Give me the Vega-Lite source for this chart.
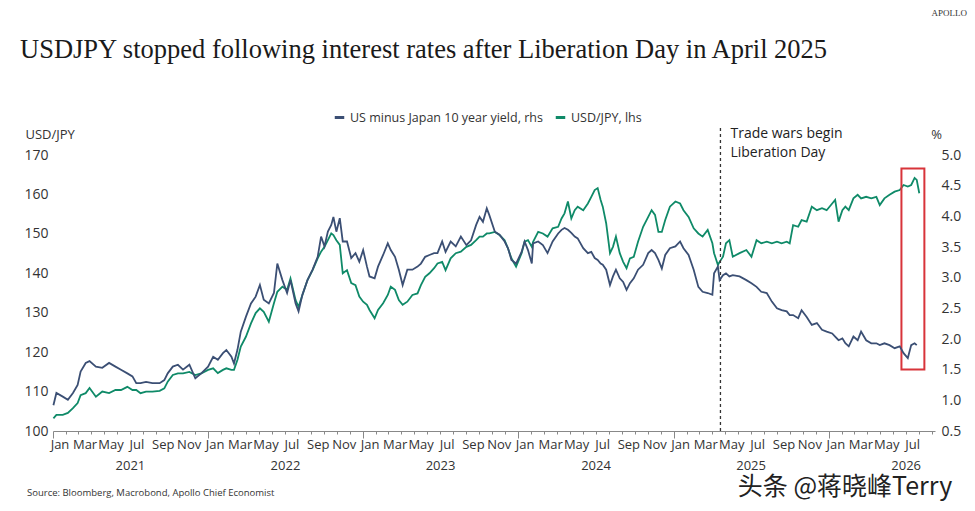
{
  "$schema": "https://vega.github.io/schema/vega-lite/v6.json",
  "width": 882,
  "height": 276,
  "autosize": "none",
  "padding": {"left": 53, "top": 155, "right": 40, "bottom": 80},
  "background": "white",
  "title": {
    "text": "USDJPY stopped following interest rates after Liberation Day in April 2025",
    "anchor": "start",
    "frame": "group",
    "font": "Liberation Serif",
    "fontSize": 26.5,
    "fontWeight": "normal",
    "color": "#1a1a1a",
    "dx": -33,
    "offset": -54
  },
  "config": {
    "view": {"stroke": null},
    "font": "Open Sans",
    "axis": {"labelFont": "Open Sans", "titleFont": "Open Sans", "labelColor": "#333", "titleColor": "#333", "grid": false},
    "legend": {"labelFont": "Open Sans"}
  },
  "data": {
    "values": [
      {"d": "2021-01-02", "fx": 103.2, "yld": 0.92},
      {"d": "2021-01-09", "fx": 104.1, "yld": 1.12},
      {"d": "2021-01-24", "fx": 104.1, "yld": 1.06},
      {"d": "2021-02-05", "fx": 104.6, "yld": 1.01},
      {"d": "2021-02-17", "fx": 105.8, "yld": 1.12},
      {"d": "2021-02-28", "fx": 107.1, "yld": 1.25},
      {"d": "2021-03-07", "fx": 109.1, "yld": 1.47},
      {"d": "2021-03-19", "fx": 109.6, "yld": 1.61},
      {"d": "2021-03-28", "fx": 110.9, "yld": 1.64},
      {"d": "2021-04-12", "fx": 108.7, "yld": 1.55},
      {"d": "2021-04-27", "fx": 110.0, "yld": 1.53},
      {"d": "2021-05-13", "fx": 109.6, "yld": 1.61},
      {"d": "2021-05-28", "fx": 110.4, "yld": 1.55},
      {"d": "2021-06-10", "fx": 110.4, "yld": 1.50},
      {"d": "2021-06-25", "fx": 111.2, "yld": 1.44},
      {"d": "2021-07-07", "fx": 110.4, "yld": 1.39},
      {"d": "2021-07-16", "fx": 110.4, "yld": 1.28},
      {"d": "2021-07-26", "fx": 109.6, "yld": 1.28},
      {"d": "2021-08-08", "fx": 110.0, "yld": 1.30},
      {"d": "2021-08-23", "fx": 110.0, "yld": 1.28},
      {"d": "2021-09-09", "fx": 110.2, "yld": 1.28},
      {"d": "2021-09-20", "fx": 110.8, "yld": 1.33},
      {"d": "2021-09-28", "fx": 112.5, "yld": 1.44},
      {"d": "2021-10-10", "fx": 114.2, "yld": 1.55},
      {"d": "2021-10-22", "fx": 114.6, "yld": 1.58},
      {"d": "2021-11-03", "fx": 114.6, "yld": 1.50},
      {"d": "2021-11-18", "fx": 115.0, "yld": 1.58},
      {"d": "2021-12-02", "fx": 114.2, "yld": 1.36},
      {"d": "2021-12-16", "fx": 114.6, "yld": 1.44},
      {"d": "2022-01-01", "fx": 115.5, "yld": 1.55},
      {"d": "2022-01-13", "fx": 115.9, "yld": 1.71},
      {"d": "2022-01-24", "fx": 114.7, "yld": 1.66},
      {"d": "2022-02-05", "fx": 115.5, "yld": 1.77},
      {"d": "2022-02-13", "fx": 115.9, "yld": 1.82},
      {"d": "2022-02-25", "fx": 115.5, "yld": 1.71},
      {"d": "2022-03-03", "fx": 115.5, "yld": 1.60},
      {"d": "2022-03-11", "fx": 118.0, "yld": 1.82},
      {"d": "2022-03-19", "fx": 121.4, "yld": 2.12},
      {"d": "2022-03-31", "fx": 123.9, "yld": 2.36},
      {"d": "2022-04-12", "fx": 127.3, "yld": 2.58},
      {"d": "2022-04-23", "fx": 129.9, "yld": 2.69},
      {"d": "2022-05-03", "fx": 131.1, "yld": 2.88},
      {"d": "2022-05-12", "fx": 130.2, "yld": 2.64},
      {"d": "2022-05-24", "fx": 127.7, "yld": 2.58},
      {"d": "2022-06-05", "fx": 132.4, "yld": 2.75},
      {"d": "2022-06-13", "fx": 135.3, "yld": 3.23},
      {"d": "2022-06-25", "fx": 136.6, "yld": 2.96},
      {"d": "2022-07-06", "fx": 135.8, "yld": 2.75},
      {"d": "2022-07-14", "fx": 138.7, "yld": 2.96},
      {"d": "2022-07-26", "fx": 133.2, "yld": 2.58},
      {"d": "2022-08-02", "fx": 131.5, "yld": 2.45},
      {"d": "2022-08-11", "fx": 134.5, "yld": 2.72},
      {"d": "2022-08-23", "fx": 138.3, "yld": 2.96},
      {"d": "2022-09-04", "fx": 140.8, "yld": 3.13},
      {"d": "2022-09-16", "fx": 143.8, "yld": 3.34},
      {"d": "2022-09-24", "fx": 145.5, "yld": 3.67},
      {"d": "2022-10-02", "fx": 146.7, "yld": 3.51},
      {"d": "2022-10-10", "fx": 148.4, "yld": 3.75},
      {"d": "2022-10-18", "fx": 150.1, "yld": 3.86},
      {"d": "2022-10-23", "fx": 149.7, "yld": 3.99},
      {"d": "2022-10-30", "fx": 148.4, "yld": 3.75},
      {"d": "2022-11-07", "fx": 147.2, "yld": 3.97},
      {"d": "2022-11-14", "fx": 140.0, "yld": 3.59},
      {"d": "2022-11-24", "fx": 140.8, "yld": 3.59},
      {"d": "2022-12-04", "fx": 137.5, "yld": 3.32},
      {"d": "2022-12-14", "fx": 137.0, "yld": 3.40},
      {"d": "2022-12-23", "fx": 134.1, "yld": 3.26},
      {"d": "2023-01-01", "fx": 132.8, "yld": 3.45},
      {"d": "2023-01-10", "fx": 132.0, "yld": 3.18},
      {"d": "2023-01-16", "fx": 130.7, "yld": 3.02},
      {"d": "2023-01-28", "fx": 128.6, "yld": 2.99},
      {"d": "2023-02-05", "fx": 130.7, "yld": 3.18},
      {"d": "2023-02-17", "fx": 132.4, "yld": 3.37},
      {"d": "2023-02-28", "fx": 134.5, "yld": 3.56},
      {"d": "2023-03-07", "fx": 136.6, "yld": 3.45},
      {"d": "2023-03-17", "fx": 135.8, "yld": 3.34},
      {"d": "2023-03-26", "fx": 133.2, "yld": 3.13},
      {"d": "2023-04-04", "fx": 132.0, "yld": 2.88},
      {"d": "2023-04-15", "fx": 132.8, "yld": 3.13},
      {"d": "2023-04-27", "fx": 134.5, "yld": 3.13},
      {"d": "2023-05-09", "fx": 134.9, "yld": 3.18},
      {"d": "2023-05-17", "fx": 137.0, "yld": 3.23},
      {"d": "2023-05-27", "fx": 139.1, "yld": 3.34},
      {"d": "2023-06-06", "fx": 140.0, "yld": 3.37},
      {"d": "2023-06-17", "fx": 141.3, "yld": 3.40},
      {"d": "2023-06-25", "fx": 142.5, "yld": 3.40},
      {"d": "2023-07-06", "fx": 142.9, "yld": 3.59},
      {"d": "2023-07-14", "fx": 140.8, "yld": 3.42},
      {"d": "2023-07-26", "fx": 143.8, "yld": 3.59},
      {"d": "2023-08-07", "fx": 145.1, "yld": 3.51},
      {"d": "2023-08-19", "fx": 145.5, "yld": 3.67},
      {"d": "2023-09-01", "fx": 146.7, "yld": 3.53},
      {"d": "2023-09-12", "fx": 147.2, "yld": 3.61},
      {"d": "2023-09-24", "fx": 148.4, "yld": 3.86},
      {"d": "2023-10-02", "fx": 149.3, "yld": 3.99},
      {"d": "2023-10-10", "fx": 149.3, "yld": 3.91},
      {"d": "2023-10-19", "fx": 150.1, "yld": 4.13},
      {"d": "2023-10-25", "fx": 150.1, "yld": 4.02},
      {"d": "2023-11-07", "fx": 150.5, "yld": 3.75},
      {"d": "2023-11-18", "fx": 149.7, "yld": 3.70},
      {"d": "2023-11-30", "fx": 148.4, "yld": 3.59},
      {"d": "2023-12-08", "fx": 146.3, "yld": 3.48},
      {"d": "2023-12-16", "fx": 143.8, "yld": 3.29},
      {"d": "2023-12-27", "fx": 141.7, "yld": 3.23},
      {"d": "2024-01-09", "fx": 145.1, "yld": 3.42},
      {"d": "2024-01-16", "fx": 148.0, "yld": 3.59},
      {"d": "2024-01-24", "fx": 148.4, "yld": 3.45},
      {"d": "2024-02-02", "fx": 146.7, "yld": 3.23},
      {"d": "2024-02-05", "fx": 148.0, "yld": 3.56},
      {"d": "2024-02-17", "fx": 150.5, "yld": 3.59},
      {"d": "2024-02-28", "fx": 150.1, "yld": 3.53},
      {"d": "2024-03-10", "fx": 149.3, "yld": 3.40},
      {"d": "2024-03-22", "fx": 151.4, "yld": 3.59},
      {"d": "2024-04-04", "fx": 151.8, "yld": 3.72},
      {"d": "2024-04-12", "fx": 153.9, "yld": 3.78},
      {"d": "2024-04-19", "fx": 155.2, "yld": 3.81},
      {"d": "2024-04-27", "fx": 158.2, "yld": 3.78},
      {"d": "2024-05-05", "fx": 153.9, "yld": 3.73},
      {"d": "2024-05-13", "fx": 156.0, "yld": 3.67},
      {"d": "2024-05-20", "fx": 156.9, "yld": 3.64},
      {"d": "2024-06-02", "fx": 156.0, "yld": 3.48},
      {"d": "2024-06-13", "fx": 157.7, "yld": 3.40},
      {"d": "2024-06-21", "fx": 159.4, "yld": 3.42},
      {"d": "2024-06-29", "fx": 161.1, "yld": 3.32},
      {"d": "2024-07-06", "fx": 161.6, "yld": 3.29},
      {"d": "2024-07-13", "fx": 158.6, "yld": 3.23},
      {"d": "2024-07-18", "fx": 156.9, "yld": 3.21},
      {"d": "2024-07-26", "fx": 152.7, "yld": 3.13},
      {"d": "2024-08-04", "fx": 145.1, "yld": 2.88},
      {"d": "2024-08-11", "fx": 146.7, "yld": 3.02},
      {"d": "2024-08-18", "fx": 149.3, "yld": 3.13},
      {"d": "2024-08-27", "fx": 145.1, "yld": 2.99},
      {"d": "2024-09-04", "fx": 142.9, "yld": 2.93},
      {"d": "2024-09-12", "fx": 141.3, "yld": 2.80},
      {"d": "2024-09-20", "fx": 143.8, "yld": 2.91},
      {"d": "2024-09-29", "fx": 144.2, "yld": 2.99},
      {"d": "2024-10-09", "fx": 148.0, "yld": 3.13},
      {"d": "2024-10-21", "fx": 151.8, "yld": 3.21},
      {"d": "2024-11-02", "fx": 154.3, "yld": 3.40},
      {"d": "2024-11-10", "fx": 156.0, "yld": 3.45},
      {"d": "2024-11-18", "fx": 154.8, "yld": 3.40},
      {"d": "2024-11-26", "fx": 150.5, "yld": 3.29},
      {"d": "2024-12-04", "fx": 150.5, "yld": 3.15},
      {"d": "2024-12-12", "fx": 153.5, "yld": 3.37},
      {"d": "2024-12-23", "fx": 156.9, "yld": 3.48},
      {"d": "2025-01-05", "fx": 158.2, "yld": 3.51},
      {"d": "2025-01-16", "fx": 157.7, "yld": 3.59},
      {"d": "2025-01-24", "fx": 156.0, "yld": 3.48},
      {"d": "2025-02-05", "fx": 154.3, "yld": 3.37},
      {"d": "2025-02-17", "fx": 151.4, "yld": 3.13},
      {"d": "2025-02-28", "fx": 150.1, "yld": 2.85},
      {"d": "2025-03-10", "fx": 149.3, "yld": 2.77},
      {"d": "2025-03-22", "fx": 151.0, "yld": 2.75},
      {"d": "2025-04-02", "fx": 147.6, "yld": 2.72},
      {"d": "2025-04-06", "fx": 145.1, "yld": 3.07},
      {"d": "2025-04-15", "fx": 142.1, "yld": 3.18},
      {"d": "2025-04-19", "fx": 142.9, "yld": 2.96},
      {"d": "2025-04-27", "fx": 144.2, "yld": 3.04},
      {"d": "2025-05-04", "fx": 147.6, "yld": 3.07},
      {"d": "2025-05-12", "fx": 148.4, "yld": 3.02},
      {"d": "2025-05-20", "fx": 144.2, "yld": 3.04},
      {"d": "2025-06-05", "fx": 145.1, "yld": 3.02},
      {"d": "2025-06-21", "fx": 145.9, "yld": 2.96},
      {"d": "2025-07-03", "fx": 144.2, "yld": 2.91},
      {"d": "2025-07-15", "fx": 148.4, "yld": 2.85},
      {"d": "2025-07-26", "fx": 147.6, "yld": 2.77},
      {"d": "2025-08-08", "fx": 148.0, "yld": 2.75},
      {"d": "2025-08-20", "fx": 147.6, "yld": 2.61},
      {"d": "2025-09-01", "fx": 148.0, "yld": 2.50},
      {"d": "2025-09-12", "fx": 147.6, "yld": 2.47},
      {"d": "2025-09-24", "fx": 148.0, "yld": 2.45},
      {"d": "2025-10-01", "fx": 147.6, "yld": 2.39},
      {"d": "2025-10-09", "fx": 152.2, "yld": 2.39},
      {"d": "2025-10-21", "fx": 151.8, "yld": 2.34},
      {"d": "2025-10-29", "fx": 153.5, "yld": 2.47},
      {"d": "2025-11-10", "fx": 153.1, "yld": 2.36},
      {"d": "2025-11-22", "fx": 156.9, "yld": 2.23},
      {"d": "2025-12-04", "fx": 156.0, "yld": 2.26},
      {"d": "2025-12-16", "fx": 156.5, "yld": 2.15},
      {"d": "2025-12-27", "fx": 156.0, "yld": 2.12},
      {"d": "2026-01-09", "fx": 157.7, "yld": 2.09},
      {"d": "2026-01-16", "fx": 158.6, "yld": 2.04},
      {"d": "2026-01-24", "fx": 153.1, "yld": 1.98},
      {"d": "2026-02-02", "fx": 156.0, "yld": 2.01},
      {"d": "2026-02-09", "fx": 156.9, "yld": 1.93},
      {"d": "2026-02-17", "fx": 156.0, "yld": 1.88},
      {"d": "2026-02-28", "fx": 159.0, "yld": 2.04},
      {"d": "2026-03-10", "fx": 159.9, "yld": 1.98},
      {"d": "2026-03-18", "fx": 159.0, "yld": 2.12},
      {"d": "2026-03-30", "fx": 159.4, "yld": 1.98},
      {"d": "2026-04-11", "fx": 159.0, "yld": 1.93},
      {"d": "2026-04-23", "fx": 159.4, "yld": 1.93},
      {"d": "2026-05-01", "fx": 157.3, "yld": 1.90},
      {"d": "2026-05-12", "fx": 159.0, "yld": 1.93},
      {"d": "2026-05-24", "fx": 159.9, "yld": 1.90},
      {"d": "2026-06-05", "fx": 160.7, "yld": 1.85},
      {"d": "2026-06-17", "fx": 161.1, "yld": 1.88},
      {"d": "2026-06-26", "fx": 162.4, "yld": 1.77},
      {"d": "2026-07-06", "fx": 162.0, "yld": 1.69},
      {"d": "2026-07-14", "fx": 162.4, "yld": 1.90},
      {"d": "2026-07-22", "fx": 164.2, "yld": 1.93},
      {"d": "2026-07-27", "fx": 163.7, "yld": 1.90},
      {"d": "2026-08-02", "fx": 160.3, "yld": null}
    ]
  },
  "layer": [
    {
      "encoding": {
        "x": {
          "field": "d",
          "type": "temporal",
          "scale": {
            "type": "utc",
            "nice": false,
            "domain": [
              {"year": 2021, "month": 1, "date": 1, "utc": true},
              {"year": 2026, "month": 9, "date": 8, "utc": true}
            ]
          },
          "axis": {
            "orient": "bottom",
            "title": null,
            "tickCount": {"interval": "month", "step": 1},
            "labelExpr": "(utcmonth(datum.value) % 2 == 0 && !(utcyear(datum.value) == 2026 && utcmonth(datum.value) > 6)) ? utcFormat(datum.value, '%b') : ''",
            "labelOffset": 6.5,
            "labelOverlap": false,
            "labelFlush": false,
            "labelFontSize": 13,
            "labelPadding": {"condition": {"test": "utcmonth(datum.value) == 0", "value": 0}, "value": 4},
            "tickSize": {"condition": {"test": "utcmonth(datum.value) == 0", "value": 7}, "value": 3},
            "tickColor": "#888",
            "domainColor": "#888"
          }
        },
        "y": {
          "field": "fx",
          "type": "quantitative",
          "scale": {"domain": [100, 170], "nice": false, "zero": false},
          "axis": {
            "title": "USD/JPY",
            "titleAngle": 0,
            "titleAlign": "left",
            "titleBaseline": "alphabetic",
            "titleX": -28,
            "titleY": -17,
            "titleFontSize": 13,
            "titleFontWeight": "normal",
            "values": [100, 110, 120, 130, 140, 150, 160, 170],
            "ticks": false,
            "domain": false,
            "labelFontSize": 14,
            "labelPadding": 5
          }
        }
      },
      "layer": [
        {
          "mark": {"type": "line", "strokeWidth": 1.8},
          "encoding": {
            "color": {
              "datum": "USD/JPY, lhs",
              "type": "nominal",
              "scale": {
                "domain": ["US minus Japan 10 year yield, rhs", "USD/JPY, lhs"],
                "range": ["#3b4f74", "#0f8a68"]
              },
              "legend": {
                "title": null,
                "orient": "none",
                "legendX": 280,
                "legendY": -44,
                "direction": "horizontal",
                "symbolType": "stroke",
                "symbolStrokeWidth": 3,
                "symbolSize": 90,
                "labelFontSize": 12.5,
                "labelLimit": 400,
                "labelColor": "#333",
                "columnPadding": 6
              }
            }
          }
        },
        {
          "data": {"values": [{"d": "2025-04-21", "fx": 100, "fx2": 177}]},
          "mark": {"type": "rule", "color": "#333", "strokeWidth": 1.3, "strokeDash": [3, 3]},
          "encoding": {"y2": {"field": "fx2"}}
        },
        {
          "data": {"values": [{"d": "2025-04-21", "fx": 174.3, "label": "Trade wars begin\nLiberation Day"}]},
          "mark": {"type": "text", "align": "left", "baseline": "alphabetic", "dx": 10, "fontSize": 14, "lineHeight": 19, "lineBreak": "\n", "color": "#222"},
          "encoding": {"text": {"field": "label"}}
        },
        {
          "data": {"values": [{"d": "2026-06-21", "d2": "2026-08-14", "fx": 115.6, "fx2": 166.6}]},
          "mark": {"type": "rect", "fillOpacity": 0, "stroke": "#d8343a", "strokeWidth": 2},
          "encoding": {"x2": {"field": "d2"}, "y2": {"field": "fx2"}}
        },
        {
          "data": {"values": [{"d": "2026-09-08", "fx": 206.0, "label": "APOLLO"}]},
          "mark": {"type": "text", "align": "right", "baseline": "middle", "dx": 32, "font": "Liberation Serif", "fontSize": 9, "color": "#333"},
          "encoding": {"text": {"field": "label"}}
        },
        {
          "data": {"values": [{"d": "2021-01-01", "fx": 84.3, "label": "Source: Bloomberg, Macrobond, Apollo Chief Economist"}]},
          "mark": {"type": "text", "align": "left", "baseline": "middle", "dx": -26, "fontSize": 9.5, "color": "#333"},
          "encoding": {"text": {"field": "label"}}
        },
        {
          "data": {"values": [{"d": "2025-06-01", "fx": 85.8, "label": "头条 @蒋晓峰Terry"}]},
          "mark": {"type": "text", "align": "left", "baseline": "middle", "font": "Noto Sans CJK SC", "fontSize": 25, "color": "#222"},
          "encoding": {"text": {"field": "label"}}
        }
      ]
    },
    {
      "mark": {"type": "line", "strokeWidth": 1.8},
      "encoding": {
        "x": {
          "field": "d",
          "type": "temporal",
          "axis": {
            "orient": "bottom",
            "title": null,
            "values": [
              {"year": 2021, "month": 7, "date": 1, "utc": true},
              {"year": 2022, "month": 7, "date": 1, "utc": true},
              {"year": 2023, "month": 7, "date": 1, "utc": true},
              {"year": 2024, "month": 7, "date": 1, "utc": true},
              {"year": 2025, "month": 7, "date": 1, "utc": true},
              {"year": 2026, "month": 7, "date": 1, "utc": true}
            ],
            "labelExpr": "utcFormat(datum.value, '%Y')",
            "ticks": false,
            "domain": false,
            "labelOverlap": false,
            "labelFontSize": 13,
            "labelPadding": 28
          }
        },
        "y": {
          "field": "yld",
          "type": "quantitative",
          "scale": {"domain": [0.5, 5.0], "nice": false, "zero": false},
          "axis": {
            "orient": "right",
            "title": "%",
            "titleAngle": 0,
            "titleAlign": "center",
            "titleBaseline": "alphabetic",
            "titleX": 1,
            "titleY": -17,
            "titleFontSize": 13,
            "titleFontWeight": "normal",
            "values": [0.5, 1.0, 1.5, 2.0, 2.5, 3.0, 3.5, 4.0, 4.5, 5.0],
            "format": ".1f",
            "ticks": false,
            "domain": false,
            "labelFontSize": 14,
            "labelPadding": 6
          }
        },
        "color": {"datum": "US minus Japan 10 year yield, rhs", "type": "nominal"}
      }
    }
  ],
  "resolve": {"scale": {"y": "independent"}, "axis": {"x": "independent"}}
}
